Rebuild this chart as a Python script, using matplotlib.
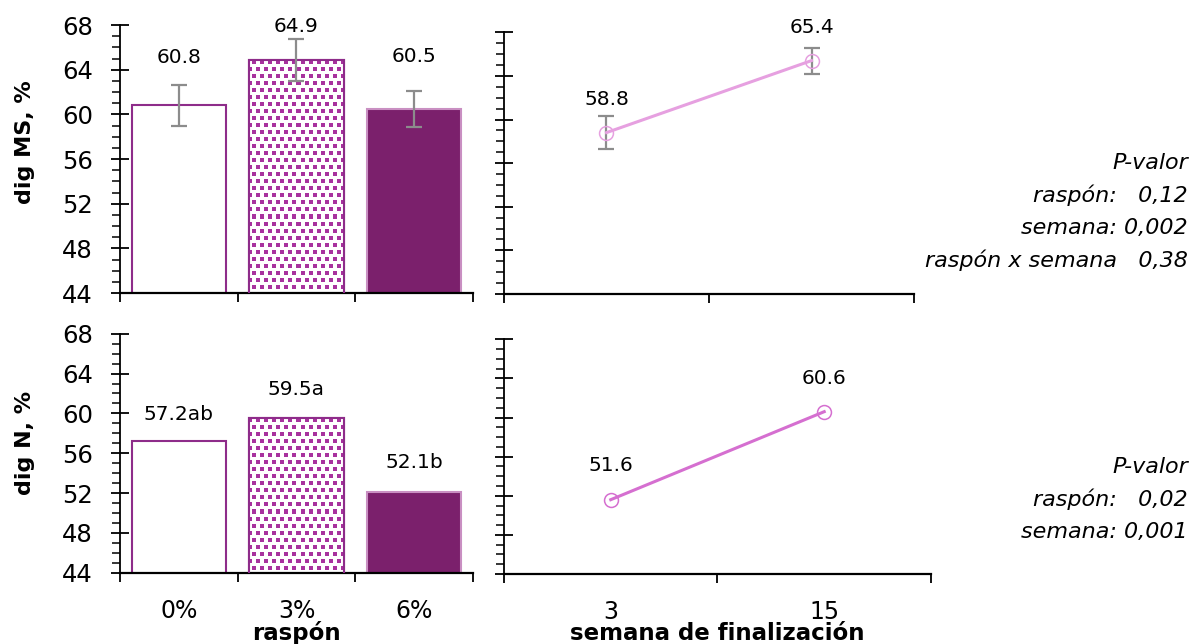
import numpy as np
import matplotlib
matplotlib.use("Agg")
from matplotlib import pyplot as plt
from matplotlib.ticker import MultipleLocator

# datos
raspon = ["0%", "3%", "6%"]
semana = ["3", "15"]

ms_raspon = [60.8, 64.9, 60.5]
ms_raspon_ee = [1.8, 1.9, 1.6]
ms_semana = [58.8, 65.4]
ms_semana_ee = [1.55, 1.2]

n_raspon = [57.2, 59.5, 52.1]
n_raspon_letras = ["ab", "a", "b"]
n_semana = [51.6, 60.6]

pvalor_ms = ["P-valor", "raspón:   0,12", "semana: 0,002", "raspón x semana   0,38"]
pvalor_n = ["P-valor", "raspón:   0,02", "semana: 0,001"]

plt.rcParams["font.family"] = ["DejaVu Sans"]

morado = "#7b206c"
borde = "#8e2c8a"
puntos = "#a8329e"
gris = "#8c8c8c"

fig = plt.figure(figsize=(11.94, 6.44), dpi=100)

ax_ms = fig.add_axes([0.1005, 0.545, 0.2956, 0.416])
ax_ms2 = fig.add_axes([0.4221, 0.5435, 0.3434, 0.4064])
ax_n = fig.add_axes([0.1005, 0.1107, 0.2956, 0.3711])
ax_n2 = fig.add_axes([0.4221, 0.1087, 0.3576, 0.3644])


def ejes(ax, etiquetas_y=True):
    ax.set_ylim(44, 68)
    ax.yaxis.set_major_locator(MultipleLocator(4))
    ax.yaxis.set_minor_locator(MultipleLocator(1))
    for s in ["top", "right"]:
        ax.spines[s].set_visible(False)
    ax.spines["left"].set_linewidth(1.3)
    ax.spines["bottom"].set_linewidth(1.6)
    ax.tick_params(axis="y", which="major", direction="inout", length=13,
                   width=1.3, labelsize=17.5, pad=13, labelleft=etiquetas_y)
    ax.tick_params(axis="y", which="minor", direction="out", length=5.5,
                   width=1.1)
    ax.tick_params(axis="x", which="major", direction="out", length=6.5,
                   width=1.3, labelbottom=False)
    ax.tick_params(axis="x", which="minor", length=0, labelsize=17, pad=19)


def trama(ax, barra):
    # relleno de cuadritos para la barra del 3%
    fig.canvas.draw()
    bb = ax.get_window_extent()
    w, h = int(bb.width), int(bb.height)
    i, j = np.mgrid[0:h, 0:w]
    fila = i // 7
    on = ((i % 7) < 4) & (((j + (fila % 2) * 4) % 8) < 4)
    img = np.ones((h, w, 3))
    img[on] = np.array(matplotlib.colors.to_rgb(puntos))
    x0, x1 = ax.get_xlim()
    y0, y1 = ax.get_ylim()
    im = ax.imshow(img, extent=(x0, x1, y0, y1), aspect="auto",
                   interpolation="nearest", zorder=2)
    im.set_clip_path(barra)
    ax.set_xlim(x0, x1)
    ax.set_ylim(y0, y1)


def panel_barras(ax, valores, ee, textos, desplaz):
    x = np.arange(len(raspon))
    ax.set_xlim(-0.5, 2.5)
    ejes(ax)
    barras = ax.bar(x, valores, width=0.8, color=["white", "white", morado],
                    edgecolor=[borde, borde, "#c98fc2"], linewidth=1.5, zorder=1)
    if ee is not None:
        ax.errorbar(x, valores, yerr=ee, fmt="none", ecolor=gris,
                    elinewidth=1.6, capsize=6, capthick=1.6, zorder=4)
    ax.set_xticks([-0.5, 0.5, 1.5, 2.5])
    ax.set_xticks(x, minor=True)
    ax.set_xticklabels(raspon, minor=True)
    for xi, v, t, d in zip(x, valores, textos, desplaz):
        ax.annotate(t, (xi, v), xytext=(0, d), textcoords="offset pixels",
                    ha="center", va="center", fontsize=14.5, zorder=5)
    trama(ax, barras[1])
    # borde encima de la trama
    b = barras[1]
    ax.add_patch(plt.Rectangle(b.get_xy(), b.get_width(), b.get_height(),
                               fill=False, edgecolor=borde, linewidth=1.5,
                               zorder=3))


def panel_lineas(ax, valores, ee, color, desplaz):
    x = np.array([0.5, 1.5])
    ax.set_xlim(0, 2)
    ejes(ax, etiquetas_y=False)
    if ee is not None:
        ax.errorbar(x, valores, yerr=ee, fmt="none", ecolor=gris,
                    elinewidth=1.6, capsize=6, capthick=1.6, zorder=2)
    ax.plot(x, valores, color=color, linewidth=2.2, marker="o", markersize=10,
            markerfacecolor="none", markeredgecolor=color, markeredgewidth=1.1,
            zorder=3)
    ax.set_xticks([0, 1, 2])
    ax.set_xticks(x, minor=True)
    ax.set_xticklabels(semana, minor=True)
    for xi, v, d in zip(x, valores, desplaz):
        ax.annotate(f"{v:.1f}", (xi, v), xytext=(0, d),
                    textcoords="offset pixels", ha="center", va="center",
                    fontsize=14.5)


panel_barras(ax_ms, ms_raspon, ms_raspon_ee,
             [f"{v:.1f}" for v in ms_raspon], [48, 33, 52])
ax_ms.tick_params(axis="x", which="minor", labelbottom=False)
panel_barras(ax_n, n_raspon, None,
             [f"{v:.1f}{l}" for v, l in zip(n_raspon, n_raspon_letras)],
             [27, 29, 30])

panel_lineas(ax_ms2, ms_semana, ms_semana_ee, "#e6a0e0", [33, 33])
ax_ms2.tick_params(axis="x", which="minor", labelbottom=False)
panel_lineas(ax_n2, n_semana, None, "#d56fd0", [34, 33])

fig.text(25 / 1194, 1 - 142 / 644, "dig MS, %", rotation=90, ha="center",
         va="center", fontsize=16, fontweight="bold")
fig.text(25 / 1194, 1 - 443 / 644, "dig N, %", rotation=90, ha="center",
         va="center", fontsize=16, fontweight="bold")

fig.text(296 / 1194, 1 - 633 / 644, "raspón", ha="center", va="center",
         fontsize=16.5, fontweight="bold")
fig.text(717 / 1194, 1 - 633 / 644, "semana de finalización", ha="center",
         va="center", fontsize=16.5, fontweight="bold")


def pvalores(lineas, y0):
    for k, t in enumerate(lineas):
        fig.text(1188 / 1194, 1 - (y0 + 32.5 * k) / 644, t, ha="right",
                 va="center", fontsize=16, style="italic")


pvalores(pvalor_ms, 163)
pvalores(pvalor_n, 467)

fig.savefig("out.png", dpi=100)
